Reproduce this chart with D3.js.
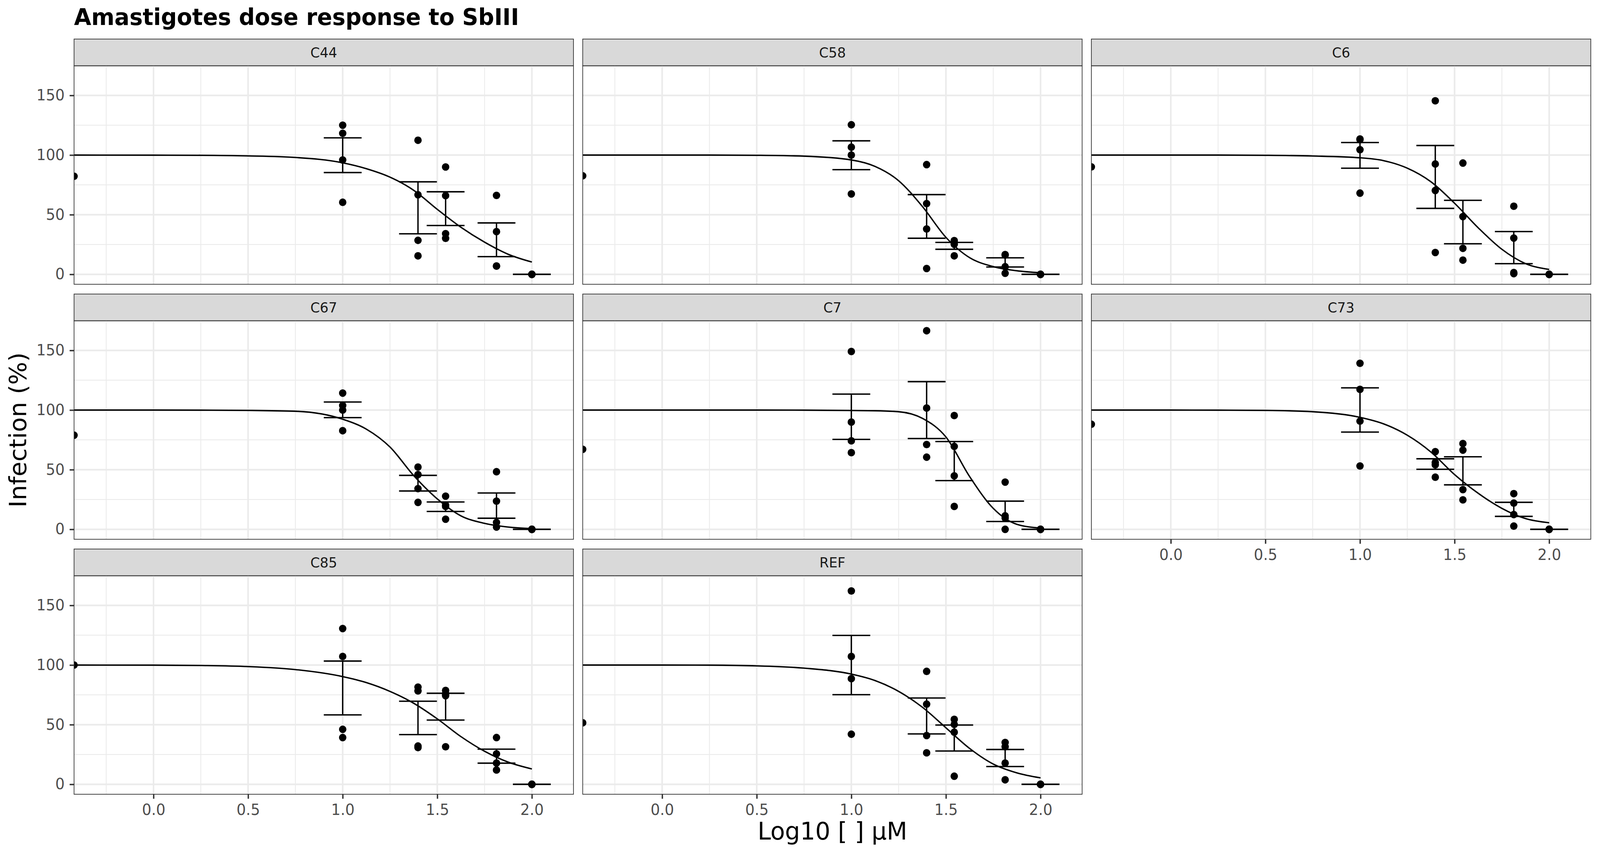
<!DOCTYPE html>
<html>
<head>
<meta charset="utf-8">
<script src="https://cdn.jsdelivr.net/npm/d3@7"></script>
<style>
  html, body { margin: 0; padding: 0; background: #fff; overflow: hidden; }
  #chart { display: block; width: 100vw; height: 100vh; }
  svg text { font-family: "DejaVu Sans", sans-serif; }
</style>
</head>
<body>
<svg id="chart" viewBox="0 0 4170 2187" preserveAspectRatio="none"></svg>
<script>
const panels = ['C44', 'C58', 'C6', 'C67', 'C7', 'C73', 'C85', 'REF'];
const logDoses = [1.0, 1.398, 1.544, 1.813, 2.0];
// dose 0 -> log10 = -Inf, drawn on the panel's left edge
const controls = [82.2, 82.6, 90.1, 78.9, 67.1, 88.1, 100.0, 51.6];

// replicates per dose (rows follow logDoses)
const c44Reps = [[125.0, 118.2, 95.9, 60.4], [112.4, 66.7, 28.5, 15.5], [90.0, 66.0, 34.1, 30.2], [66.2, 35.8, 7.0, 6.9], [0, 0, 0, 0]];
const c58Reps = [[125.4, 106.6, 100.0, 67.4], [92.0, 59.3, 38.0, 4.9], [28.3, 26.6, 25.2, 15.5], [16.6, 16.1, 6.4, 0.9], [0, 0, 0, 0]];
const c6Reps = [[113.5, 112.9, 104.5, 68.1], [145.5, 92.5, 70.3, 18.3], [93.3, 48.4, 21.8, 11.9], [57.1, 30.4, 1.5, 0.6], [0, 0, 0, 0]];
const c67Reps = [[114.2, 103.8, 100.0, 82.7], [52.2, 45.9, 34.1, 22.6], [27.8, 20.3, 19.2, 8.5], [48.3, 23.6, 5.8, 1.9], [0, 0, 0, 0]];
const c7Reps = [[149.1, 89.9, 74.2, 64.3], [166.5, 101.7, 71.1, 60.5], [95.4, 69.5, 44.8, 19.2], [39.6, 11.3, 9.5, 0], [0, 0, 0, 0]];
const c73Reps = [[139.2, 117.3, 90.7, 53.1], [65.1, 56.1, 54.1, 43.7], [71.9, 66.4, 33.3, 24.7], [29.9, 22.0, 12.4, 2.7], [0, 0, 0, 0]];
const c85Reps = [[130.6, 107.2, 46.1, 39.2], [81.5, 78.3, 32.1, 30.8], [78.7, 75.9, 74.3, 31.5], [39.2, 25.5, 17.8, 12.0], [0, 0, 0, 0]];
const refReps = [[162.1, 107.2, 88.6, 42.0], [94.7, 67.2, 40.9, 26.4], [54.5, 50.2, 43.7, 6.8], [35.1, 31.5, 17.8, 3.8], [0, 0, 0, 0]];

// fitted dose-response curves
const curveX = [-0.42, 0, 0.25, 0.5, 0.75, 1.0, 1.125, 1.25, 1.375, 1.5, 1.625, 1.75, 1.875, 2.0];
const c44Fit = [100, 99.9, 99.8, 99.3, 98.0, 93.5, 88.6, 81.5, 70.5, 54.5, 39.5, 27.0, 16.8, 10.3];
const c58Fit = [100, 100, 100, 99.8, 99.1, 95.9, 90.5, 78.5, 57.0, 31.0, 14.0, 6.5, 3.0, 1.3];
const c6Fit = [100, 100, 100, 99.8, 99.2, 97.7, 95.3, 89.0, 77.6, 59.6, 39.0, 21.0, 9.0, 4.1];
const c67Fit = [100, 100, 99.9, 99.7, 99.0, 92.3, 84.0, 69.0, 45.1, 25.5, 11.3, 5.0, 1.9, 0.6];
const c7Fit = [100, 100, 100, 100, 99.9, 99.6, 99.4, 98.6, 93.1, 77.4, 44.3, 17.6, 4.2, 1.1];
const c73Fit = [100, 100, 99.9, 99.7, 98.6, 93.9, 88.4, 78.9, 64.8, 45.9, 30.2, 17.6, 9.0, 5.5];
const c85Fit = [100, 99.9, 99.6, 98.7, 96.2, 90.3, 85.3, 77.9, 68.0, 54.9, 40.0, 27.7, 18.6, 12.9];
const refFit = [100, 100, 99.9, 99.3, 97.4, 92.4, 87.0, 77.9, 64.7, 47.4, 30.1, 17.0, 9.6, 5.4];

const xTicks = [0, 0.5, 1.0, 1.5, 2.0];
const xMinor = [-0.25, 0.25, 0.75, 1.25, 1.75];
const yTicks = [0, 50, 100, 150];
const yMinor = [25, 75, 125];
const xLimits = [-0.3, 2.1];

const reps = [c44Reps, c58Reps, c6Reps, c67Reps, c7Reps, c73Reps, c85Reps, refReps];
const fits = [c44Fit, c58Fit, c6Fit, c67Fit, c7Fit, c73Fit, c85Fit, refFit];

const plotLeft = 193, plotRight = 4146, plotTop = 100, plotBottom = 2034;
const nCols = 3, nRows = 3, colGap = 24, rowGap = 25, stripH = 68.5;
const cellW = (plotRight - plotLeft - colGap * (nCols - 1)) / nCols;
const cellH = (plotBottom - plotTop - rowGap * (nRows - 1)) / nRows;
const panelH = cellH - stripH;

const expand = (lo, hi) => [lo - (hi - lo) * 0.05, hi + (hi - lo) * 0.05];

const summaries = reps.map(r => r.map((vals, i) => {
  const m = d3.mean(vals);
  const se = d3.deviation(vals) / Math.sqrt(vals.length);
  return { x: logDoses[i], mean: m, lo: m - se, hi: m + se };
}));

const yMax = d3.max([d3.max(reps.flat(2)), d3.max(summaries.flat(), d => d.hi), d3.max(controls)]);

const x = d3.scaleLinear().domain(expand(xLimits[0], xLimits[1])).range([0, cellW]);
const y = d3.scaleLinear().domain(expand(0, yMax)).range([panelH, 0]);

const svg = d3.select('#chart');
svg.append('rect').attr('width', 4170).attr('height', 2187).attr('fill', '#fff');

svg.append('text')
  .attr('x', plotLeft).attr('y', 64.5)
  .attr('font-size', 58).attr('font-weight', 'bold').attr('fill', '#000')
  .text('Amastigotes dose response to SbIII');

const line = d3.line().x(d => x(d[0])).y(d => y(d[1])).curve(d3.curveMonotoneX);

panels.forEach((name, p) => {
  const col = p % nCols, row = Math.floor(p / nCols);
  const gx = plotLeft + col * (cellW + colGap);
  const gy = plotTop + row * (cellH + rowGap);
  const g = svg.append('g').attr('transform', `translate(${gx},${gy})`);

  // strip
  g.append('rect')
    .attr('width', cellW).attr('height', stripH)
    .attr('fill', '#D9D9D9').attr('stroke', '#333333').attr('stroke-width', 1.8);
  g.append('text')
    .attr('x', cellW / 2).attr('y', stripH / 2)
    .attr('text-anchor', 'middle').attr('dominant-baseline', 'central')
    .attr('font-size', 35.5).attr('fill', '#1A1A1A')
    .text(name);

  const panel = g.append('g').attr('transform', `translate(0,${stripH})`);
  panel.append('clipPath').attr('id', 'clip' + p)
    .append('rect').attr('width', cellW).attr('height', panelH);

  const grid = panel.append('g').attr('clip-path', `url(#clip${p})`);
  grid.selectAll('.ymin').data(yMinor).enter().append('line')
    .attr('x1', 0).attr('x2', cellW).attr('y1', d => y(d)).attr('y2', d => y(d))
    .attr('stroke', '#EBEBEB').attr('stroke-width', 2.2);
  grid.selectAll('.xmin').data(xMinor).enter().append('line')
    .attr('y1', 0).attr('y2', panelH).attr('x1', d => x(d)).attr('x2', d => x(d))
    .attr('stroke', '#EBEBEB').attr('stroke-width', 2.2);
  grid.selectAll('.ymaj').data(yTicks).enter().append('line')
    .attr('x1', 0).attr('x2', cellW).attr('y1', d => y(d)).attr('y2', d => y(d))
    .attr('stroke', '#EBEBEB').attr('stroke-width', 4.2);
  grid.selectAll('.xmaj').data(xTicks).enter().append('line')
    .attr('y1', 0).attr('y2', panelH).attr('x1', d => x(d)).attr('x2', d => x(d))
    .attr('stroke', '#EBEBEB').attr('stroke-width', 4.2);

  const marks = panel.append('g').attr('clip-path', `url(#clip${p})`);

  // replicate points
  const pts = reps[p].flatMap((vals, i) => vals.map(v => [logDoses[i], v]));
  marks.selectAll('.pt').data(pts).enter().append('circle')
    .attr('cx', d => x(d[0])).attr('cy', d => y(d[1])).attr('r', 9.7).attr('fill', '#000');
  marks.append('circle')
    .attr('cx', x.range()[0]).attr('cy', y(controls[p])).attr('r', 9.7).attr('fill', '#000');

  // mean +/- SE
  const eb = marks.selectAll('.eb').data(summaries[p]).enter().append('g')
    .attr('stroke', '#000').attr('stroke-width', 3.6).attr('fill', 'none');
  eb.append('line').attr('x1', d => x(d.x)).attr('x2', d => x(d.x))
    .attr('y1', d => y(d.lo)).attr('y2', d => y(d.hi));
  eb.append('line').attr('x1', d => x(d.x - 0.1)).attr('x2', d => x(d.x + 0.1))
    .attr('y1', d => y(d.hi)).attr('y2', d => y(d.hi));
  eb.append('line').attr('x1', d => x(d.x - 0.1)).attr('x2', d => x(d.x + 0.1))
    .attr('y1', d => y(d.lo)).attr('y2', d => y(d.lo));

  marks.append('path')
    .datum(curveX.map((cx, i) => [cx, fits[p][i]]))
    .attr('d', line).attr('fill', 'none').attr('stroke', '#000').attr('stroke-width', 3.6);

  panel.append('rect')
    .attr('width', cellW).attr('height', panelH)
    .attr('fill', 'none').attr('stroke', '#333333').attr('stroke-width', 1.8);

  if (col === 0) {
    const ya = panel.append('g').call(d3.axisLeft(y).tickValues(yTicks).tickSize(11.5).tickPadding(13));
    ya.select('.domain').remove();
    ya.selectAll('line').attr('stroke', '#333333').attr('stroke-width', 3.6);
    ya.selectAll('text').attr('font-size', 38.5).attr('fill', '#4D4D4D')
      .attr('font-family', '"DejaVu Sans", sans-serif');
  }
  const below = p + nCols;
  if (below >= panels.length) {
    const xa = panel.append('g').attr('transform', `translate(0,${panelH})`)
      .call(d3.axisBottom(x).tickValues(xTicks).tickFormat(d3.format('.1f')).tickSize(11.5).tickPadding(14));
    xa.select('.domain').remove();
    xa.selectAll('line').attr('stroke', '#333333').attr('stroke-width', 3.6);
    xa.selectAll('text').attr('font-size', 38.5).attr('fill', '#4D4D4D')
      .attr('font-family', '"DejaVu Sans", sans-serif');
  }
});

svg.append('text')
  .attr('x', (plotLeft + plotRight) / 2).attr('y', 2150)
  .attr('text-anchor', 'middle').attr('font-size', 62).attr('fill', '#000')
  .text('Log10 [ ] µM');

svg.append('text')
  .attr('transform', 'translate(68,1101) rotate(-90)')
  .attr('text-anchor', 'middle').attr('font-size', 62).attr('fill', '#000')
  .text('Infection (%)');
</script>
</body>
</html>
